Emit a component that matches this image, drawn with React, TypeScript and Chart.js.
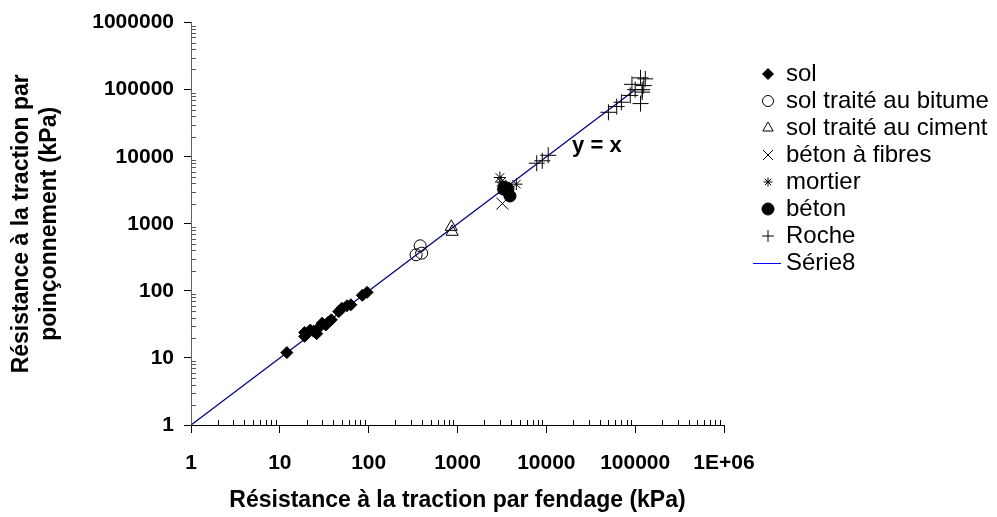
import React, { useEffect, useRef } from 'react';
import { Chart, registerables } from 'chart.js';
import { drawPoint } from 'chart.js/helpers';

Chart.register(...registerables);

const FONT = "'Liberation Sans', Arial, sans-serif";

const xTicks = [1, 10, 100, 1000, 10000, 100000, 1000000];
const xTickLabels = ['1', '10', '100', '1000', '10000', '100000', '1E+06'];
const yTicks = [1, 10, 100, 1000, 10000, 100000, 1000000];
const yTickLabels = ['1', '10', '100', '1000', '10000', '100000', '1000000'];

const seriesNames = ['sol', 'sol traité au bitume', 'sol traité au ciment', 'béton à fibres', 'mortier', 'béton', 'Roche', 'Série8'];

const solX = [12, 19, 19, 22, 24, 26, 28, 30, 33, 35, 38, 46, 50, 57, 63, 85, 96];
const solY = [12, 21, 24, 26, 25, 23, 29, 33, 31, 34, 37, 49, 55, 60, 62, 86, 95];

const bitumeX = [342, 395, 380];
const bitumeY = [345, 365, 470];

const cimentX = [850, 870];
const cimentY = [900, 760];

const fibresX = [3200, 3300];
const fibresY = [2000, 3400];

const mortierX = [3000, 3100, 4600, 3500];
const mortierY = [4900, 4200, 3900, 3700];

const betonX = [3400, 3600, 3900, 3300, 3700];
const betonY = [3500, 3100, 2600, 3300, 3300];

const rocheX = [7800, 9000, 10500, 50000, 62000, 70000, 88000, 92000, 100000, 115000, 130000, 120000, 120000, 115000, 125000];
const rocheY = [8000, 8700, 10500, 46000, 56000, 65000, 82000, 120000, 100000, 150000, 145000, 100000, 92000, 62000, 115000];

const serie8X = [1, 100000];
const serie8Y = [1, 100000];

const eqLabel = 'y = x';
const eqX = 19500;
const eqY = 14700;

const zip = (xs: number[], ys: number[]) => xs.map((x, i) => ({ x, y: ys[i] }));

const markerStyles = [
  { pointStyle: 'rectRot', radius: 6, fill: '#000', legendRadius: 5.5 },
  { pointStyle: 'circle', radius: 6, fill: 'rgba(0,0,0,0)', legendRadius: 5.5 },
  { pointStyle: 'triangle', radius: 7, fill: 'rgba(0,0,0,0)', legendRadius: 6 },
  { pointStyle: 'crossRot', radius: 8.5, fill: 'rgba(0,0,0,0)', legendRadius: 7 },
  { pointStyle: 'star', radius: 6, fill: 'rgba(0,0,0,0)', legendRadius: 4.5 },
  { pointStyle: 'circle', radius: 6, fill: '#000', legendRadius: 6 },
  { pointStyle: 'cross', radius: 8, fill: 'rgba(0,0,0,0)', legendRadius: 6 },
];

const customPlugin = {
  id: 'custom',
  afterDraw(chart: any) {
    const ctx = chart.ctx;
    const xs = chart.scales.x;
    const ys = chart.scales.y;
    const area = chart.chartArea;
    ctx.save();
    // minor ticks
    ctx.lineWidth = 1;
    ctx.strokeStyle = '#000';
    ctx.beginPath();
    for (let k = 0; k < 6; k++) {
      for (let m = 2; m <= 9; m++) {
        const v = m * Math.pow(10, k);
        const px = Math.round(xs.getPixelForValue(v)) + 0.5;
        ctx.moveTo(px, area.bottom);
        ctx.lineTo(px, area.bottom - 5);
      }
    }
    ctx.stroke();
    ctx.strokeStyle = '#555';
    ctx.beginPath();
    for (let k = 0; k < 6; k++) {
      for (let m = 2; m <= 9; m++) {
        const v = m * Math.pow(10, k);
        const py = Math.round(ys.getPixelForValue(v)) + 0.5;
        ctx.moveTo(area.left, py);
        ctx.lineTo(area.left + 5, py);
      }
    }
    ctx.stroke();

    // y = x label
    ctx.fillStyle = '#000';
    ctx.font = `bold 22px ${FONT}`;
    ctx.textAlign = 'left';
    ctx.textBaseline = 'middle';
    ctx.fillText(eqLabel, xs.getPixelForValue(eqX), ys.getPixelForValue(eqY));

    // legend
    const lx = 768;
    const tx = 786;
    const y0 = 74;
    const dy = 27;
    ctx.font = `24px ${FONT}`;
    seriesNames.forEach((name, i) => {
      const cy = y0 + i * dy;
      if (i < markerStyles.length) {
        const ms = markerStyles[i];
        ctx.fillStyle = ms.fill;
        ctx.strokeStyle = '#000';
        ctx.lineWidth = 1;
        drawPoint(ctx, { pointStyle: ms.pointStyle, radius: ms.legendRadius, rotation: 0, borderWidth: 1 } as any, lx, cy);
      } else {
        ctx.strokeStyle = '#0000ff';
        ctx.lineWidth = 1;
        ctx.beginPath();
        ctx.moveTo(753, Math.round(cy) + 0.5);
        ctx.lineTo(781, Math.round(cy) + 0.5);
        ctx.stroke();
      }
      ctx.fillStyle = '#000';
      ctx.textAlign = 'left';
      ctx.textBaseline = 'middle';
      ctx.fillText(name, tx, cy);
    });
    ctx.restore();
  },
};

export default function App() {
  const ref = useRef<HTMLCanvasElement | null>(null);
  useEffect(() => {
    if (!ref.current) return;
    const seriesData = [
      zip(solX, solY),
      zip(bitumeX, bitumeY),
      zip(cimentX, cimentY),
      zip(fibresX, fibresY),
      zip(mortierX, mortierY),
      zip(betonX, betonY),
      zip(rocheX, rocheY),
    ];
    const datasets: any[] = [
      {
        label: seriesNames[7],
        data: zip(serie8X, serie8Y),
        showLine: true,
        borderColor: '#000080',
        borderWidth: 1.3,
        pointRadius: 0,
        fill: false,
        order: 10,
      },
      ...seriesData.map((d, i) => ({
        label: seriesNames[i],
        data: d,
        showLine: false,
        pointStyle: markerStyles[i].pointStyle,
        pointRadius: markerStyles[i].radius,
        pointBackgroundColor: markerStyles[i].fill,
        pointBorderColor: '#000',
        pointBorderWidth: 1,
        order: i,
      })),
    ];
    const tickFont = { family: FONT, size: 21, weight: 'bold' as const };
    const titleFont = { family: FONT, size: 23, weight: 'bold' as const };
    const chart = new Chart(ref.current, {
      type: 'scatter',
      data: { datasets },
      plugins: [customPlugin],
      options: {
        animation: false,
        responsive: false,
        devicePixelRatio: 1,
        layout: { padding: { left: 0, right: 273, top: 21, bottom: 0 } },
        plugins: { legend: { display: false }, tooltip: { enabled: false } },
        scales: {
          x: {
            type: 'logarithmic',
            position: 'bottom',
            min: 1,
            max: 1000000,
            afterBuildTicks: (s: any) => {
              s.ticks = xTicks.map((v) => ({ value: v, major: true }));
            },
            afterFit: (s: any) => {
              s.height = 92;
            },
            ticks: {
              autoSkip: false,
              maxRotation: 0,
              padding: 18,
              color: '#000',
              font: tickFont,
              callback: (_v: any, i: number) => xTickLabels[i],
            },
            grid: { drawOnChartArea: false, drawTicks: true, tickLength: 8, color: '#000', lineWidth: 1 },
            border: { display: true, color: '#000', width: 1 },
            title: {
              display: true,
              text: 'Résistance à la traction par fendage (kPa)',
              color: '#000',
              font: titleFont,
              padding: { top: 0, bottom: 3 },
            },
          },
          y: {
            type: 'logarithmic',
            position: 'left',
            min: 1,
            max: 1000000,
            afterBuildTicks: (s: any) => {
              s.ticks = yTicks.map((v) => ({ value: v, major: true }));
            },
            afterFit: (s: any) => {
              s.width = 191;
            },
            ticks: {
              autoSkip: false,
              padding: 10,
              color: '#000',
              font: tickFont,
              callback: (_v: any, i: number) => yTickLabels[i],
            },
            grid: { drawOnChartArea: false, drawTicks: true, tickLength: 7, color: '#000', lineWidth: 1 },
            border: { display: true, color: '#666', width: 1 },
            title: {
              display: true,
              text: ['Résistance à la traction par', 'poinçonnement (kPa)'],
              color: '#000',
              font: titleFont,
              padding: { top: 8, bottom: 0 },
            },
          },
        },
      } as any,
    });
    return () => chart.destroy();
  }, []);
  return (
    <div style={{ position: 'fixed', left: 0, top: 0, width: 997, height: 517, background: '#fff' }}>
      <canvas ref={ref} width={997} height={517} style={{ width: 997, height: 517, display: 'block' }} />
    </div>
  );
}
